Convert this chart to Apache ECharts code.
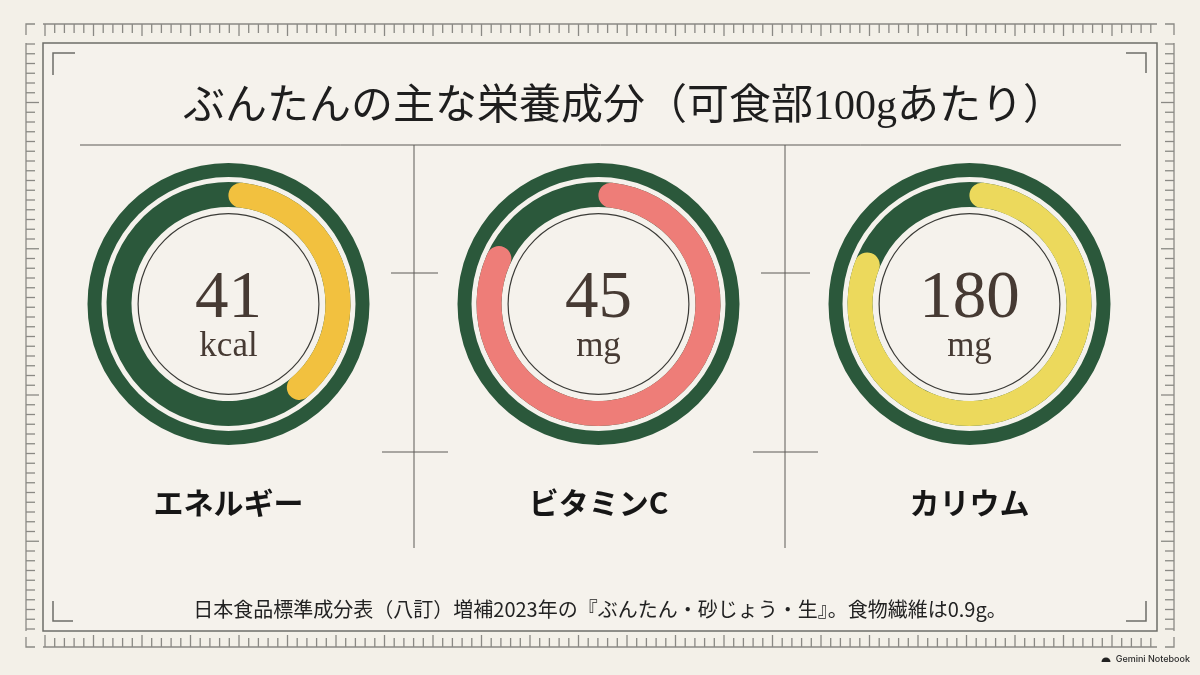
<!DOCTYPE html>
<html>
<head>
<meta charset="utf-8">
<script src="https://cdn.jsdelivr.net/npm/echarts@6/dist/echarts.min.js"></script>
<style>
html,body{margin:0;padding:0;background:#f3f0e8;}
#chart{width:1200px;height:675px;}
</style>
</head>
<body>
<div id="chart"></div>
<script>
// ---- data ----
const categories = ['エネルギー', 'ビタミンC', 'カリウム'];
const values = [41, 45, 180];
const units = ['kcal', 'mg', 'mg'];
const fillPercent = [37, 80, 79];   // share of the ring that is filled
const titleText = 'ぶんたんの主な栄養成分（可食部100gあたり）';
const noteText = '日本食品標準成分表（八訂）増補2023年の『ぶんたん・砂じょう・生』。食物繊維は0.9g。';

// ---- styles ----
const arcColors = ['#f2c13f', '#ee7d78', '#ecd95c'];
const green = '#2b583b';
const centersX = [228.5, 598.5, 969.5];
const centerY = 304;
const capOffset = 6.5; // degrees so the round cap starts at 12 o'clock
const serif = "'Liberation Serif', 'DejaVu Serif', serif";
const jp = "'Noto Sans CJK JP', 'Noto Sans', sans-serif";

function hidden() {
  return {
    pointer: { show: false }, anchor: { show: false },
    axisTick: { show: false }, splitLine: { show: false }, axisLabel: { show: false }
  };
}

const series = [];
categories.forEach((name, i) => {
  const c = [centersX[i], centerY];
  series.push(Object.assign({
    type: 'gauge', center: c, radius: 141, startAngle: 90, endAngle: -270, silent: true,
    axisLine: { lineStyle: { width: 14, color: [[1, green]] } },
    progress: { show: false }, detail: { show: false }, title: { show: false },
    data: [{ value: 0 }]
  }, hidden()));
  series.push(Object.assign({
    type: 'gauge', center: c, radius: 122,
    startAngle: 90 - capOffset, endAngle: -270 - capOffset, min: 0, max: 100,
    axisLine: { lineStyle: { width: 25, color: [[1, green]] } },
    progress: { show: true, width: 25, roundCap: true, itemStyle: { color: arcColors[i] } },
    title: { offsetCenter: [0, 199], fontSize: 30, fontWeight: 'bold', color: '#161616', fontFamily: jp },
    detail: {
      offsetCenter: [0, 14],
      fontWeight: 'normal',
      formatter: () => '{v|' + values[i] + '}\n{u|' + units[i] + '}',
      rich: {
        v: { fontSize: 67, fontWeight: 'normal', fontFamily: serif, color: '#463a33', lineHeight: 58 },
        u: { fontSize: 35, fontWeight: 'normal', fontFamily: serif, color: '#463a33', lineHeight: 38 }
      }
    },
    data: [{ value: fillPercent[i], name: name }]
  }, hidden()));
  series.push(Object.assign({
    type: 'gauge', center: c, radius: 91, startAngle: 90, endAngle: -270, silent: true,
    axisLine: { lineStyle: { width: 1.2, color: [[1, '#3a3a36']] } },
    progress: { show: false }, detail: { show: false }, title: { show: false },
    data: [{ value: 0 }]
  }, hidden()));
});

// ---- decorative frame ----
const graphic = [];
function seg(x1, y1, x2, y2, stroke, w) {
  graphic.push({ type: 'line', z: -5, shape: { x1, y1, x2, y2 }, style: { stroke, lineWidth: w } });
}
function poly(points, stroke, w) {
  graphic.push({ type: 'polyline', z: -5, shape: { points }, style: { stroke, lineWidth: w, fill: null } });
}
graphic.push({ type: 'rect', z: -10, shape: { x: 43, y: 43, width: 1114, height: 588 },
  style: { fill: '#f5f2ec', stroke: '#6e6d68', lineWidth: 1.5 } });
const rulerC = '#8a8984';
seg(43, 24, 1157, 24, rulerC, 1.3);
seg(43, 647, 1157, 647, rulerC, 1.3);
for (let k = 0; 45 + k * 9.7 <= 1157; k++) {
  const x = 45 + k * 9.7;
  const len = k % 5 === 0 ? 12 : 9;
  seg(x, 24, x, 24 + len, rulerC, 1.3);
  seg(x, 647, x, 647 - len, rulerC, 1.3);
}
seg(26, 43, 26, 631, rulerC, 1.3);
seg(1174, 43, 1174, 631, rulerC, 1.3);
for (let k = 0; 44 + k * 9.75 <= 631; k++) {
  const y = 44 + k * 9.75;
  const len = (k + 9) % 15 === 0 ? 13 : 9;
  seg(26, y, 26 + len, y, rulerC, 1.3);
  seg(1174, y, 1174 - len, y, rulerC, 1.3);
}
poly([[26, 35], [26, 24], [35, 24]], rulerC, 1.3);
poly([[1165, 24], [1174, 24], [1174, 35]], rulerC, 1.3);
poly([[26, 637], [26, 647], [35, 647]], rulerC, 1.3);
poly([[1165, 647], [1174, 647], [1174, 637]], rulerC, 1.3);
const frameC = '#6e6d68';
poly([[53, 75], [53, 53], [75, 53]], frameC, 1.5);
poly([[1126, 53], [1146, 53], [1146, 73]], frameC, 1.5);
poly([[53, 601], [53, 621], [73, 621]], frameC, 1.5);
poly([[1126, 621], [1146, 621], [1146, 601]], frameC, 1.5);
const divC = '#5c5b57';
seg(80, 145, 1121, 145, divC, 1);
seg(414, 145, 414, 548, divC, 1);
seg(785, 145, 785, 548, divC, 1);
seg(391, 273, 438, 273, divC, 1);
seg(382, 452, 448, 452, divC, 1);
seg(761, 273, 810, 273, divC, 1);
seg(753, 452, 818, 452, divC, 1);
graphic.push({ type: 'sector', shape: { cx: 1106, cy: 662, r: 4.5, r0: 0, startAngle: Math.PI, endAngle: 2 * Math.PI },
  style: { fill: '#222' } });
graphic.push({ type: 'text', x: 1190, y: 659, style: { text: 'Gemini Notebook', font: '500 9px Inter, Roboto, sans-serif', fill: '#2a2a2a', textAlign: 'right', textVerticalAlign: 'middle' } });

const chart = echarts.init(document.getElementById('chart'));
chart.setOption({
  backgroundColor: '#f3f0e8',
  animation: false,
  title: [
    { text: titleText, left: 178, top: 82,
      textStyle: { fontSize: 42, fontWeight: 'normal', color: '#1e1e1e', fontFamily: "'Liberation Serif', 'Noto Sans CJK JP'" } },
    { text: noteText, left: 'center', top: 594,
      textStyle: { fontSize: 20, fontWeight: 'normal', color: '#222', fontFamily: jp } }
  ],
  graphic: graphic,
  series: series
});
</script>
</body>
</html>
